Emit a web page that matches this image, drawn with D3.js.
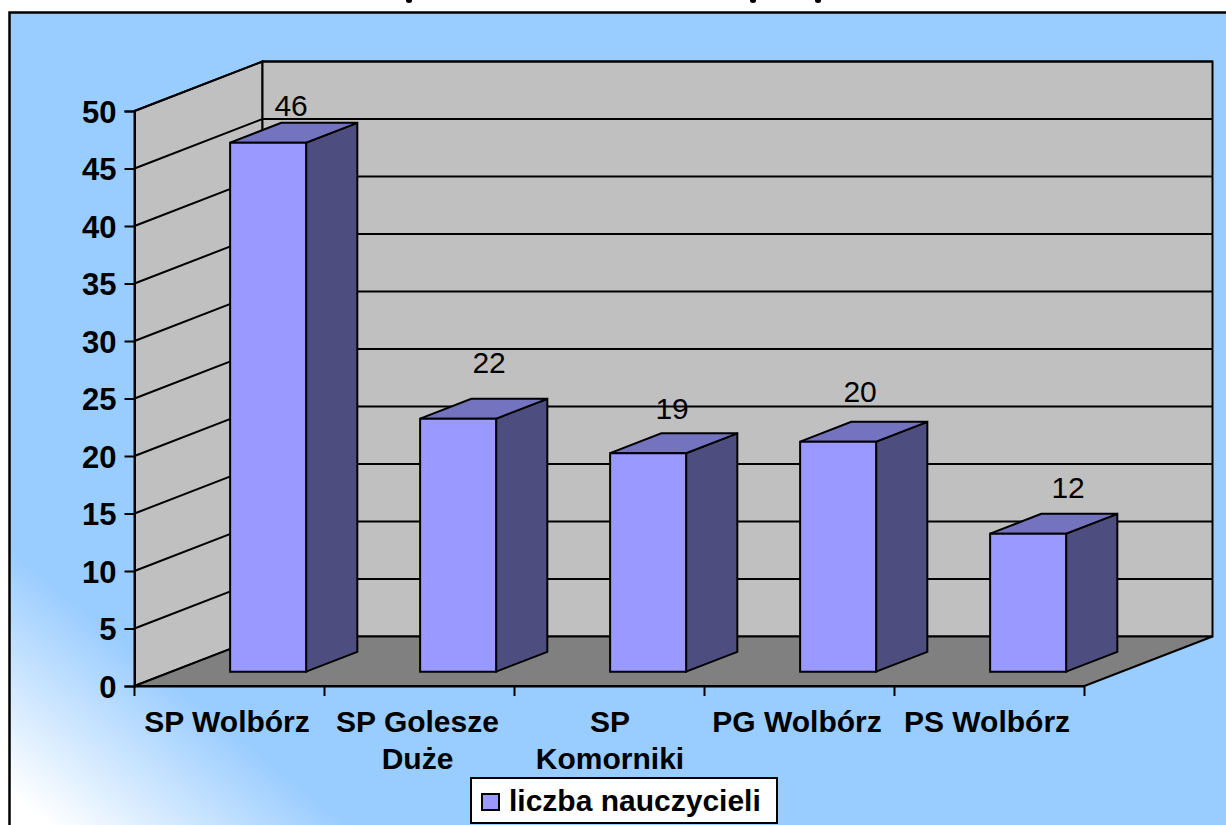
<!DOCTYPE html>
<html lang="pl"><head><meta charset="utf-8">
<style>html,body{margin:0;padding:0;background:#fff;overflow:hidden}svg{display:block}text{font-family:"Liberation Sans",Arial,sans-serif;fill:#000}</style>
<script src="https://cdn.jsdelivr.net/npm/d3@7/dist/d3.min.js"></script>
</head><body><div id="chart"></div>
<script>
const categories = [["SP Wolbórz"],["SP Golesze","Duże"],["SP","Komorniki"],["PG Wolbórz"],["PS Wolbórz"]];
const values = [46,22,19,20,12];
const yTicks = [0,5,10,15,20,25,30,35,40,45,50];
const seriesName = "liczba nauczycieli";
// hand-placed label nudges of the original chart (layout, not data)
const labelNudgeX = [23,31,24,22,40];
const labelNudgeY = [-37,-56,-45,-50,-46];
const catNudgeX = [-2.5,-2,0.5,-2.5,-2.5];
const titleDescenders = [409,753,818];

const W=1226,H=825;
const svg=d3.select("#chart").append("svg").attr("width",W).attr("height",H);
const defs=svg.append("defs");
const g=defs.append("linearGradient").attr("id","bg").attr("gradientUnits","userSpaceOnUse")
 .attr("x1",25).attr("y1",805).attr("x2",145).attr("y2",658);
g.append("stop").attr("offset",0).attr("stop-color","#fff");
g.append("stop").attr("offset",1).attr("stop-color","#99CCFF");

svg.selectAll(".desc").data(titleDescenders).join("ellipse").attr("cx",d=>d).attr("cy",0.5).attr("rx",3).attr("ry",2.5).attr("fill","#000");
svg.append("rect").attr("x",9.5).attr("y",12.5).attr("width",W+20).attr("height",H+20).attr("fill","url(#bg)").attr("stroke","#000").attr("stroke-width",2.5);

// scales: x along the front edge, y up the front edge, z into depth
const x=d3.scaleBand().domain(categories.map((c,i)=>i)).range([134.5,1084.5]);
const y=d3.scaleLinear().domain([0,50]).range([686,111]);
const zx=d3.scaleLinear().domain([0,1]).range([0,128]);
const zy=d3.scaleLinear().domain([0,1]).range([0,-49.5]);
const P=(px,py,z)=>[px+zx(z),py+zy(z)];
const poly=pts=>"M"+pts.map(p=>p.join(",")).join("L")+"Z";
const x0=x.range()[0],x1=x.range()[1],y0=y(0),yT=y(50);
const stroke=(s,w)=>s.attr("stroke","#000").attr("stroke-width",w).attr("stroke-linejoin","miter");

svg.append("path").attr("d",poly([P(x0,y0,0),P(x0,yT,0),P(x0,yT,1),P(x0,y0,1)])).attr("fill","#C0C0C0").call(stroke,2);
svg.append("path").attr("d",poly([P(x0,y0,1),P(x0,yT,1),P(x1,yT,1),P(x1,y0,1)])).attr("fill","#C0C0C0").call(stroke,2);
svg.append("path").attr("d",poly([P(x0,y0,0),P(x0,y0,1),P(x1,y0,1),P(x1,y0,0)])).attr("fill","#808080").call(stroke,2);

const grid=svg.append("g");
yTicks.filter(t=>t>0).forEach(t=>{
  const a=P(x0,y(t),0),b=P(x0,y(t),1),c=P(x1,y(t),1);
  grid.append("path").attr("d","M"+[a,b,c].map(p=>p.join(",")).join("L")).attr("fill","none").attr("stroke","#000").attr("stroke-width",2);
});

// axes
const yAxis=svg.append("g").attr("transform",`translate(${x0},0)`).call(d3.axisLeft(y).tickValues(yTicks).tickSize(10).tickPadding(8));
yAxis.select(".domain").attr("stroke","#000").attr("stroke-width",2);
yAxis.selectAll("line").attr("stroke","#000").attr("stroke-width",2);
yAxis.selectAll("text").attr("font-size",31).attr("font-weight","bold").attr("dy","0.36em").style("font-family",'"Liberation Sans",Arial,sans-serif');

const xAxis=svg.append("g").attr("transform",`translate(0,${y0})`).call(d3.axisBottom(x).tickSize(0).tickFormat(""));
xAxis.select(".domain").attr("stroke","#000").attr("stroke-width",2);
xAxis.selectAll(".tick line").remove();
d3.range(categories.length+1).forEach(i=>{
  const px=x0+i*x.step();
  xAxis.append("line").attr("x1",px).attr("x2",px).attr("y1",0).attr("y2",10).attr("stroke","#000").attr("stroke-width",2);
});
xAxis.selectAll(".tick text").each(function(d){
  const t=d3.select(this).attr("y",0).attr("dy",null).attr("font-size",30).attr("font-weight","bold").attr("text-anchor","middle").style("font-family",'"Liberation Sans",Arial,sans-serif');
  categories[d].forEach((line,k)=>t.append("tspan").attr("x",catNudgeX[d]).attr("y",46+36.5*k).text(line));
});

// bars
const zFront=0.29,zBack=0.69,barW=76,barShift=1.5;
const bars=svg.append("g");
values.forEach((v,i)=>{
  const L=x(i)+x.bandwidth()/2-barW/2+barShift, R=L+barW, top=y(v), bot=y(0);
  const col=bars.append("g");
  col.append("path").attr("d",poly([P(R,bot,zFront),P(R,top,zFront),P(R,top,zBack),P(R,bot,zBack)])).attr("fill","#4D4D80").call(stroke,2);
  col.append("path").attr("d",poly([P(L,top,zFront),P(L,top,zBack),P(R,top,zBack),P(R,top,zFront)])).attr("fill","#7373BF").call(stroke,2);
  col.append("path").attr("d",poly([P(L,bot,zFront),P(L,top,zFront),P(R,top,zFront),P(R,bot,zFront)])).attr("fill","#9999FF").call(stroke,2);
});
svg.append("g").selectAll("text").data(values).join("text")
  .attr("x",(v,i)=>P(x(i)+x.bandwidth()/2,0,zFront)[0]+barShift+labelNudgeX[i])
  .attr("y",(v,i)=>P(0,y(v),zFront)[1]+labelNudgeY[i]+10.5)
  .attr("text-anchor","middle").attr("font-size",30).text(v=>v);

// legend
const leg=svg.append("g");
leg.append("rect").attr("x",471).attr("y",778).attr("width",306).attr("height",45).attr("fill","#fff").attr("stroke","#000").attr("stroke-width",2);
leg.append("rect").attr("x",482).attr("y",794).attr("width",17).attr("height",16).attr("fill","#9999FF").attr("stroke","#000").attr("stroke-width",2);
leg.append("text").attr("x",509).attr("y",811).attr("font-size",30).attr("font-weight","bold").text(seriesName);
</script></body></html>
